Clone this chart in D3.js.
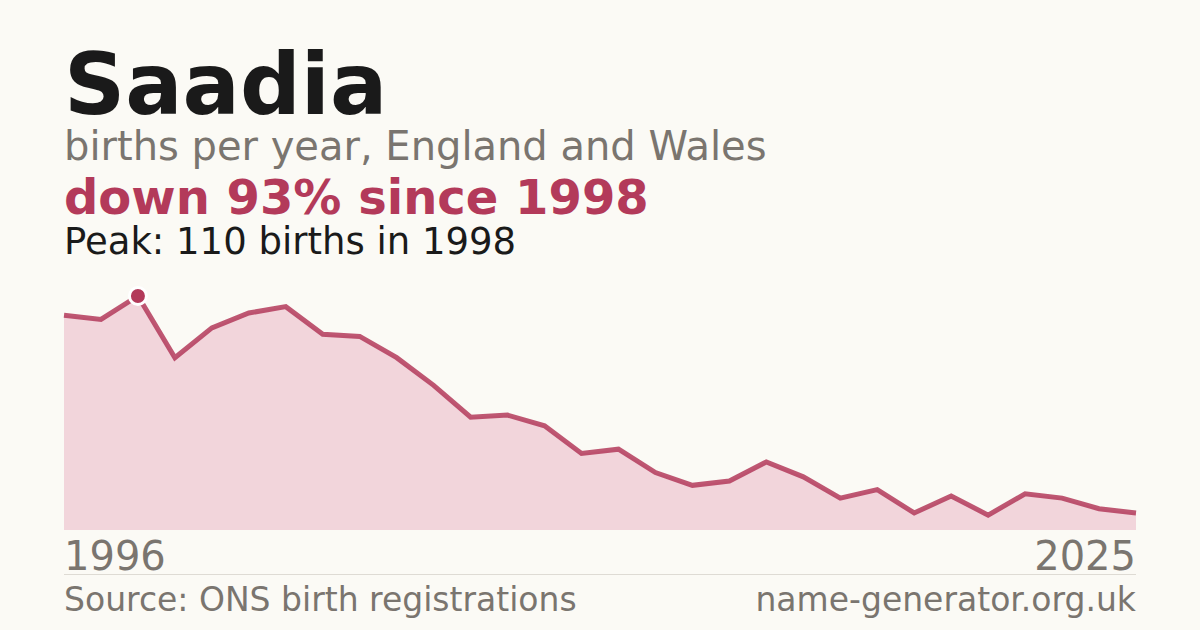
<!DOCTYPE html>
<html>
<head>
<meta charset="utf-8">
<script src="https://cdn.jsdelivr.net/npm/d3@7"></script>
<style>
  html, body { margin: 0; padding: 0; background: #fbfaf5; }
  svg { display: block; font-family: "DejaVu Sans", sans-serif; }
</style>
</head>
<body>
<svg id="chart" width="1200" height="630"></svg>
<script>
// Data
const years = d3.range(1996, 2026);
const births = [101, 99, 110, 81, 95, 102, 105, 92, 91, 81,
                68, 53, 54, 49, 36, 38, 27, 21, 23, 32,
                25, 15, 19, 8, 16, 7, 17, 15, 10, 8];
const peakYear = 1998;
const peakValue = 110;

const crimson = "#b33a5a";
const grey = "#7a756f";

const svg = d3.select("#chart");

svg.append("rect")
    .attr("width", 1200)
    .attr("height", 630)
    .attr("fill", "#fbfaf5");

// Header texts
svg.append("text")
    .attr("x", 64).attr("y", 114)
    .attr("font-size", 85).attr("font-weight", "bold")
    .attr("fill", "#1a1a1a")
    .text("Saadia");

svg.append("text")
    .attr("x", 64).attr("y", 160)
    .attr("font-size", 40)
    .attr("fill", grey)
    .text("births per year, England and Wales");

svg.append("text")
    .attr("x", 64).attr("y", 214)
    .attr("font-size", 48).attr("font-weight", "bold")
    .attr("fill", crimson)
    .text("down 93% since 1998");

svg.append("text")
    .attr("x", 64).attr("y", 254)
    .attr("font-size", 37)
    .attr("fill", "#1a1a1a")
    .text(`Peak: ${peakValue} births in ${peakYear}`);

// Scales
const x = d3.scaleLinear()
    .domain([1996, 2025])
    .range([64, 1136]);

const y = d3.scaleLinear()
    .domain([0, 110])
    .range([530, 296]);

const data = years.map((yr, i) => ({ year: yr, value: births[i] }));

// Area + line
const area = d3.area()
    .x(d => x(d.year))
    .y0(y(0))
    .y1(d => y(d.value));

const line = d3.line()
    .x(d => x(d.year))
    .y(d => y(d.value));

svg.append("path")
    .datum(data)
    .attr("d", area)
    .attr("fill", "#f2d5db");

svg.append("path")
    .datum(data)
    .attr("d", line)
    .attr("fill", "none")
    .attr("stroke", crimson)
    .attr("stroke-opacity", 0.85)
    .attr("stroke-width", 5)
    .attr("stroke-linejoin", "miter");

// Peak marker
svg.append("circle")
    .attr("cx", x(peakYear))
    .attr("cy", y(peakValue))
    .attr("r", 8.5)
    .attr("fill", crimson)
    .attr("stroke", "#ffffff")
    .attr("stroke-width", 3);

// Year labels
svg.append("text")
    .attr("x", x(1996)).attr("y", 570)
    .attr("font-size", 40)
    .attr("fill", grey)
    .text(years[0]);

svg.append("text")
    .attr("x", x(2025)).attr("y", 570)
    .attr("font-size", 40)
    .attr("text-anchor", "end")
    .attr("fill", grey)
    .text(years[years.length - 1]);

// Separator
svg.append("line")
    .attr("x1", 64).attr("x2", 1136)
    .attr("y1", 574.5).attr("y2", 574.5)
    .attr("stroke", "#dedbd4")
    .attr("stroke-width", 1);

// Footer
svg.append("text")
    .attr("x", 64).attr("y", 611)
    .attr("font-size", 33)
    .attr("fill", grey)
    .text("Source: ONS birth registrations");

svg.append("text")
    .attr("x", 1136).attr("y", 611)
    .attr("font-size", 33)
    .attr("text-anchor", "end")
    .attr("fill", grey)
    .text("name-generator.org.uk");
</script>
</body>
</html>
